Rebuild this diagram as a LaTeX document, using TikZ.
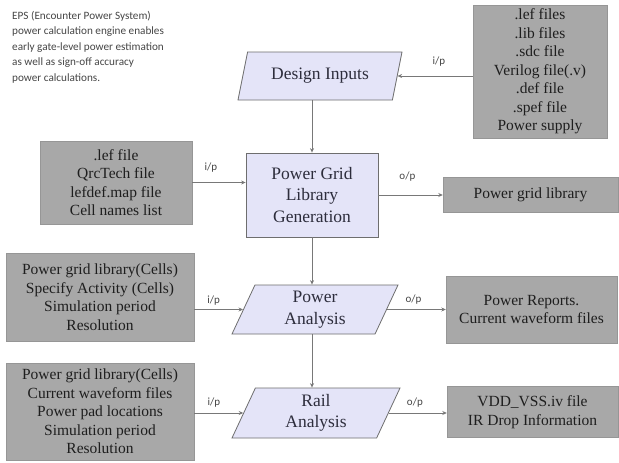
\documentclass[tikz,border=0pt]{standalone}
\usepackage{fontspec}
\setmainfont{Liberation Serif}
\newfontfamily\calfont{Carlito}
\usetikzlibrary{arrows.meta, shapes.geometric, positioning}

\definecolor{boxgray}{RGB}{168,168,168}
\definecolor{boxline}{RGB}{150,150,150}
\definecolor{boxtext}{RGB}{30,30,30}
\definecolor{stagefill}{RGB}{228,228,248}
\definecolor{stageline}{RGB}{110,110,110}
\definecolor{stagetext}{RGB}{45,45,60}
\definecolor{connline}{RGB}{120,120,120}
\definecolor{lbltext}{RGB}{70,70,70}

\tikzset{
    inbox/.style={draw=boxline, fill=boxgray, text=boxtext, align=center, inner sep=0pt,
        font=\fontsize{15.5}{18.5}\selectfont},
    stage/.style={draw=stageline, fill=stagefill, text=stagetext, align=center, inner sep=0pt,
        line width=0.8pt, font=\fontsize{17.5}{21.5}\selectfont},
    slant/.style={stage, trapezium, trapezium left angle=58, trapezium right angle=122,
        trapezium stretches body},
    conn/.style={draw=connline, line width=0.7pt, -{Stealth[length=4.5pt, width=4pt]}},
    lbl/.style={font=\calfont\fontsize{11}{13}\selectfont, text=lbltext, inner sep=1pt},
}

\begin{document}
\begin{tikzpicture}[x=1pt, y=-1pt]
    \fill[white] (0,0) rectangle (619,463);
    \useasboundingbox (0,0) rectangle (619,463);

    % note
    \node[lbl, anchor=north west, align=left, inner sep=0pt,
        font=\calfont\fontsize{11.2}{15.5}\selectfont] (note) at (12,11)
        {EPS (Encounter Power System)\\power calculation engine enables\\early gate-level power estimation\\as well as sign-off accuracy\\power calculations.};

    % stages
    \node[slant, minimum width=164, minimum height=48] (di) at (320,76) {Design Inputs};
    \node[stage, minimum width=132, minimum height=84] (pg) at (312,195) {Power Grid\\Library\\Generation};
    \node[slant, minimum width=166, minimum height=49] (pa) at (315,309.5) {Power\\Analysis};
    \node[slant, minimum width=168, minimum height=50] (ra) at (316,413) {Rail\\Analysis};

    % input and output files
    \node[inbox, minimum width=134, minimum height=133] (lefs) at (540,71.5)
        {.lef files\\.lib files\\.sdc file\\Verilog file(.v)\\.def file\\.spef file\\Power supply};
    \node[inbox, minimum width=152, minimum height=83] (qrc) at (116,182.5)
        {.lef file\\QrcTech file\\lefdef.map file\\Cell names list};
    \node[inbox, minimum width=175, minimum height=35] (pglib) at (530.5,194.5) {Power grid library};
    \node[inbox, minimum width=188, minimum height=88] (act) at (100,297)
        {Power grid library(Cells)\\Specify Activity (Cells)\\Simulation period\\Resolution};
    \node[inbox, minimum width=171, minimum height=67] (reports) at (531.5,309.5)
        {Power Reports.\\Current waveform files};
    \node[inbox, minimum width=188, minimum height=97] (railin) at (100,411.5)
        {Power grid library(Cells)\\Current waveform files\\Power pad locations\\Simulation period\\Resolution};
    \node[inbox, minimum width=171, minimum height=51] (vdd) at (532.5,412)
        {VDD\_VSS.iv file\\IR Drop Information};

    % flow
    \draw[conn] (pg.north |- di.south) -- (pg.north);
    \draw[conn] (pg.south) -- (pg.south |- pa.north);
    \draw[conn] (pg.south |- pa.south) -- (pg.south |- ra.north);

    % i/p and o/p
    \draw[conn] (lefs.west |- di.east) -- (di.east) node[lbl, pos=.45, above=8pt] {i/p};
    \draw[conn] (qrc.east) -- (qrc.east -| pg.west) node[lbl, pos=.35, above=9pt] {i/p};
    \draw[conn] (pg.east) -- (pg.east -| pglib.west) node[lbl, pos=.45, above=12pt] {o/p};
    \draw[conn] (act.east |- pa.west) -- (pa.west) node[lbl, pos=.4, above=3pt] {i/p};
    \draw[conn] (pa.east) -- (pa.east -| reports.west) node[lbl, pos=.45, above=4pt] {o/p};
    \draw[conn] (railin.east |- ra.west) -- (ra.west) node[lbl, pos=.4, above=4pt] {i/p};
    \draw[conn] (ra.east) -- (ra.east -| vdd.west) node[lbl, pos=.45, above=4pt] {o/p};
\end{tikzpicture}
\end{document}
